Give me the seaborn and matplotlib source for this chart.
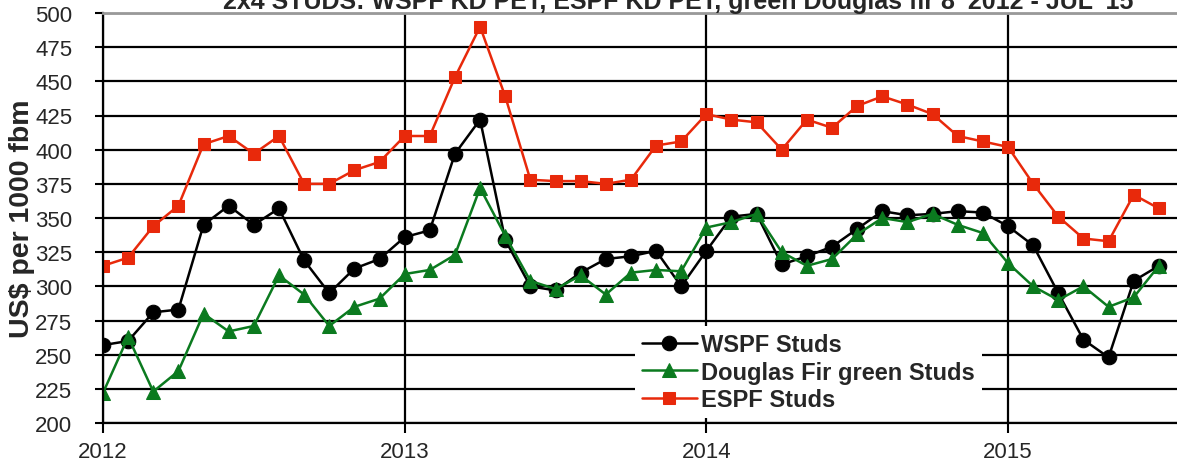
import numpy as np
import pandas as pd
import matplotlib
matplotlib.use('Agg')
import matplotlib.pyplot as plt
import seaborn as sns

# monthly prices, Jan 2012 - Jul 2015 (US$ per 1000 fbm)
MONTHS = pd.date_range('2012-01-01', '2015-07-01', freq='MS')

wspf = [257, 260, 281, 283, 345, 359, 345, 357, 319, 295, 313, 320,
        336, 341, 397, 422, 334, 300, 297, 310, 320, 322, 326, 300,
        326, 351, 353, 316, 322, 329, 342, 355, 352, 353, 355, 354,
        344, 330, 295, 261, 248, 304, 315]

dfir = [222, 263, 223, 238, 280, 267, 271, 308, 294, 271, 285, 291,
        309, 312, 323, 372, 337, 304, 298, 308, 294, 310, 312, 311,
        343, 347, 353, 325, 315, 320, 338, 350, 347, 353, 345, 339,
        317, 300, 290, 300, 285, 292, 315]

espf = [315, 321, 344, 359, 404, 410, 397, 410, 375, 375, 385, 391,
        410, 410, 453, 490, 439, 378, 377, 377, 375, 378, 403, 406,
        426, 422, 420, 400, 422, 416, 432, 439, 433, 426, 410, 406,
        402, 375, 351, 335, 333, 367, 357]

SERIES = ['WSPF Studs', 'Douglas Fir green Studs', 'ESPF Studs']
COLORS = ['#000000', '#0b7a1f', '#e8290b']
MARKERS = ['o', '^', 's']
MSIZES = [10.5, 10.5, 9]

YEAR_TICKS = [2012, 2013, 2014, 2015]
TITLE = "2x4 STUDS: WSPF KD PET, ESPF KD PET, green Douglas fir 8' 2012 - JUL '15"

# decimal-year positions so the axis can be ticked at whole years
xpos = MONTHS.year + (MONTHS.month - 1) / 12.0

sns.set_style('white')
plt.rcParams['font.family'] = ['Liberation Sans', 'DejaVu Sans']

fig = plt.figure(figsize=(11.77, 4.64), dpi=100)
ax = fig.add_axes([103 / 1177, 40 / 464, (1177 - 103) / 1177, 410 / 464])

for name, vals, c, m, ms in zip(SERIES, [wspf, dfir, espf], COLORS, MARKERS, MSIZES):
    sns.lineplot(x=xpos, y=vals, ax=ax, color=c, marker=m, markersize=ms,
                 markeredgecolor=c, linewidth=1.8, label=name)

ax.set_xlim(2012, 2012 + 1074 / 301.67)
ax.set_ylim(200, 500)
ax.set_yticks(np.arange(200, 501, 25))
ax.set_xticks(YEAR_TICKS)
ax.set_xticklabels([str(y) for y in YEAR_TICKS])

ax.grid(True, color='black', linewidth=1.6)
ax.set_axisbelow(True)

for s in ['left', 'bottom']:
    ax.spines[s].set_color('black')
    ax.spines[s].set_linewidth(1.6)
ax.spines['top'].set_color('#999999')
ax.spines['top'].set_linewidth(2)
ax.spines['right'].set_visible(False)

ax.tick_params(axis='y', left=True, direction='out', length=6, width=1.5,
               color='black', pad=16, labelsize=16)
ax.tick_params(axis='x', bottom=True, direction='out', length=7, width=1.5,
               color='black', pad=6, labelsize=16)

ax.set_ylabel('US$ per 1000 fbm', fontsize=20.5, fontweight='bold', labelpad=0.5)
ax.set_xlabel('')

ax.legend(loc='center', bbox_to_anchor=(0.657, 0.124), frameon=True,
          facecolor='white', edgecolor='none', framealpha=1, fancybox=False,
          prop={'weight': 'bold', 'size': 17}, handlelength=2.3,
          labelspacing=0.2, borderpad=0.3, handletextpad=0.2)

# the title sits partly above the top edge, as in the source image
fig.text(678 / 1177, 1 - 9 / 464, TITLE, ha='center', va='baseline',
         fontsize=18, fontweight='bold')

fig.savefig('out.png', dpi=100)
